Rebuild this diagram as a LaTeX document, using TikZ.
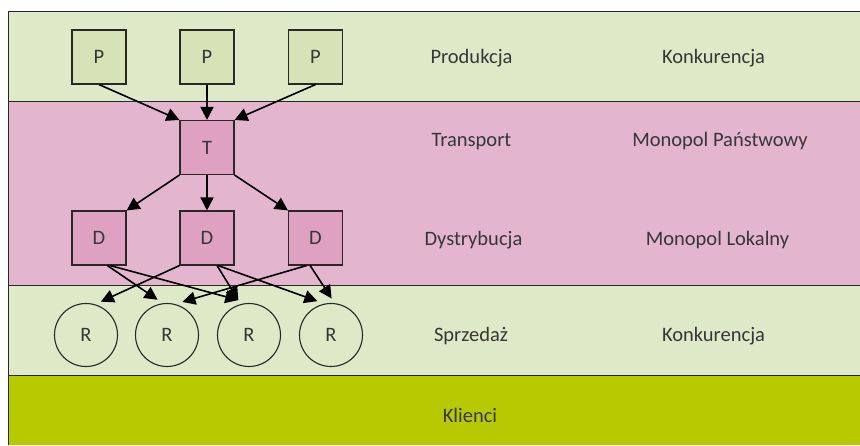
\documentclass[tikz,border=0pt]{standalone}
\usepackage{fontspec}
\setmainfont{Carlito}
\usetikzlibrary{arrows.meta}
\definecolor{bandgreen}{RGB}{221,233,199}
\definecolor{boxgreen}{RGB}{213,227,183}
\definecolor{bandpink}{RGB}{228,181,207}
\definecolor{boxpink}{RGB}{222,161,194}
\definecolor{bandolive}{RGB}{183,201,0}
\definecolor{linegray}{RGB}{40,40,40}
\definecolor{textgray}{RGB}{55,55,55}
\tikzset{
  lbl/.style={font=\fontsize{20.5}{24}\selectfont, text=textgray, inner sep=0pt, anchor=base},
  sqbox/.style={draw=linegray, line width=1.1pt, minimum size=54pt, inner sep=0pt,
    font=\fontsize{20.5}{24}\selectfont, text=textgray},
  rcirc/.style={circle, draw=linegray, line width=1.1pt, minimum size=63pt, inner sep=0pt,
    outer sep=5pt, font=\fontsize{20.5}{24}\selectfont, text=textgray},
  conn/.style={line width=1.6pt, draw=black, -{Triangle[length=13pt,width=13pt]}},
  bandline/.style={draw=linegray, line width=0.9pt}
}
\begin{document}
\begin{tikzpicture}[x=1pt,y=-1pt]
\useasboundingbox (0,0) rectangle (860,445);
\fill[white] (0,0) rectangle (860,445);
% bands
\fill[bandgreen] (8,11) rectangle (860,101);
\fill[bandpink] (8,101) rectangle (860,285);
\fill[bandgreen] (8,285) rectangle (860,375);
\fill[bandolive] (8,375) rectangle (860,445);
\draw[bandline] (860,11) -- (8,11) -- (8,445);
\draw[bandline] (8,101) -- (860,101);
\draw[bandline] (8,285) -- (860,285);
\draw[bandline] (8,375) -- (860,375);
% nodes
\node[sqbox, fill=boxgreen] (P1) at (99,57) {P};
\node[sqbox, fill=boxgreen] (P2) at (207,57) {P};
\node[sqbox, fill=boxgreen] (P3) at (315.5,57) {P};
\node[sqbox, fill=boxpink] (T) at (207,147.5) {T};
\node[sqbox, fill=boxpink] (D1) at (99,238) {D};
\node[sqbox, fill=boxpink] (D2) at (207,238) {D};
\node[sqbox, fill=boxpink] (D3) at (315.5,238) {D};
\node[rcirc] (R1) at (86,335) {R};
\node[rcirc] (R2) at (167,335) {R};
\node[rcirc] (R3) at (249,335) {R};
\node[rcirc] (R4) at (331,335) {R};
% labels
\node[lbl] (l1) at (471.5,63) {Produkcja};
\node[lbl] (r1) at (713.5,63) {Konkurencja};
\node[lbl] (l2) at (471.5,146.5) {Transport};
\node[lbl] (r2) at (720,146.5) {Monopol Państwowy};
\node[lbl] (l3) at (473.5,245) {Dystrybucja};
\node[lbl] (r3) at (717.5,245) {Monopol Lokalny};
\node[lbl] (l4) at (471,341.5) {Sprzedaż};
\node[lbl] (r4) at (713.5,341.5) {Konkurencja};
\node[lbl] (l5) at (470,422.5) {Klienci};
% connectors
\draw[conn] (P1.south) -- (T.north west);
\draw[conn] (P2.south) -- (T.north);
\draw[conn] (P3.south) -- (T.north east);
\draw[conn] (T.south west) -- (D1.north east);
\draw[conn] (T.south) -- (D2.north);
\draw[conn] (T.south east) -- (D3.north west);
\draw[conn] (D1.-73) -- (R2.105);
\draw[conn] (D1.-68) -- (R3.107);
\draw[conn] (D2.south west) -- (R1.66);
\draw[conn] (D2.-70) -- (R3.107);
\draw[conn] (D2.-68) -- (R4.112);
\draw[conn] (D3.-108) -- (R2.65);
\draw[conn] (D3.-101) -- (R4.89);
\end{tikzpicture}
\end{document}
